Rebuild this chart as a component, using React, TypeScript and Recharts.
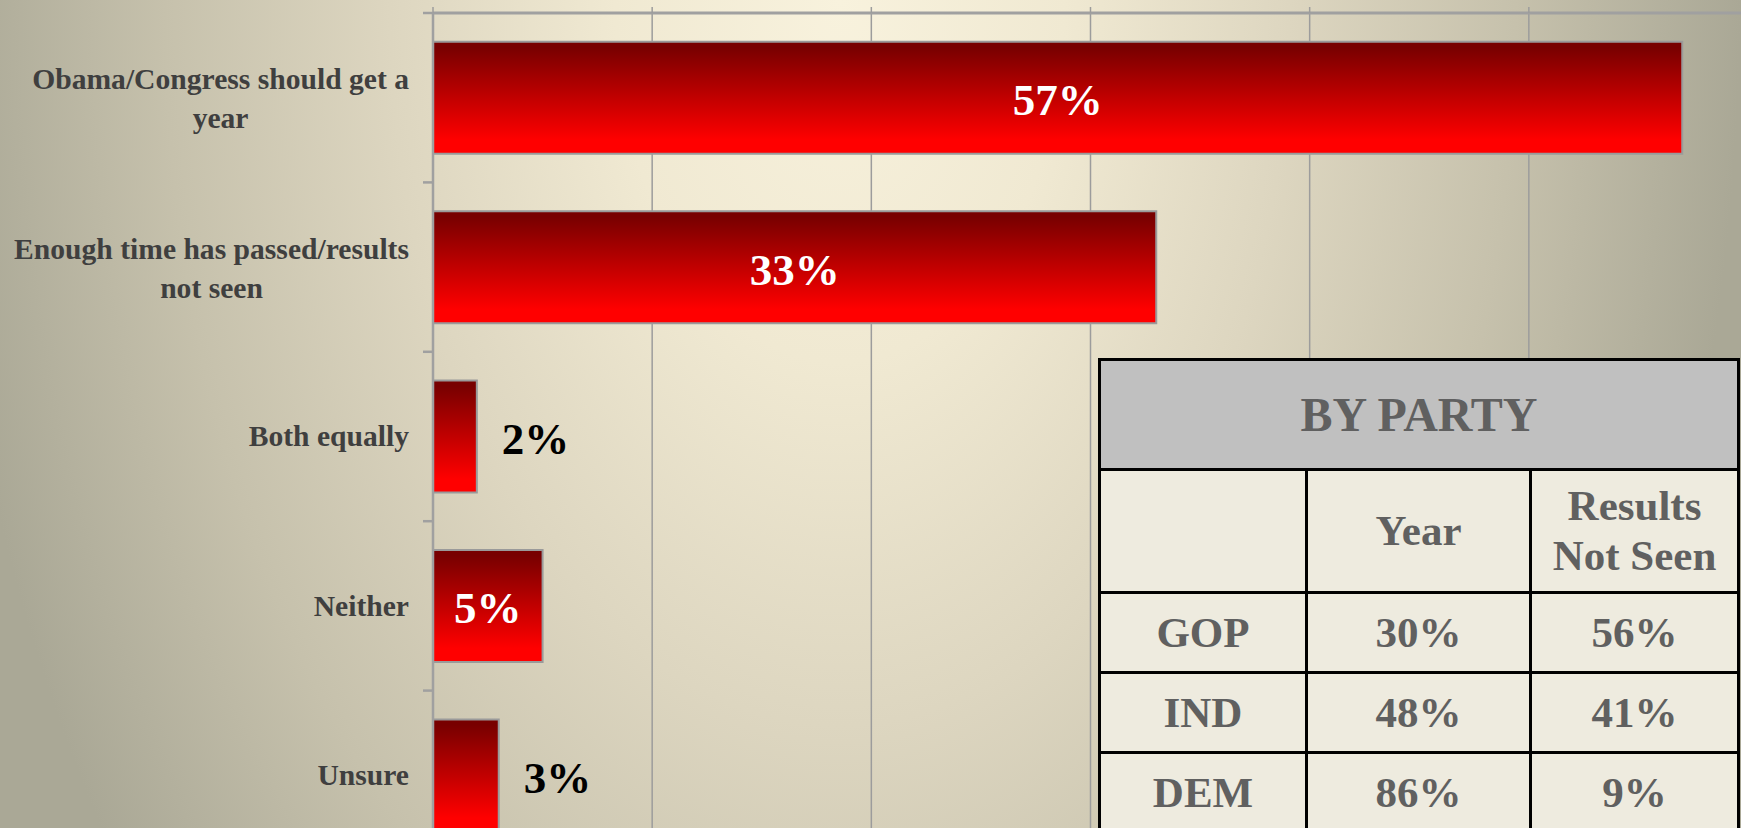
import React from 'react';
import { BarChart, Bar, XAxis, YAxis, CartesianGrid, LabelList } from 'recharts';

// ---- Chart data ----
const categories = [
  'Obama/Congress should get a year',
  'Enough time has passed/results not seen',
  'Both equally',
  'Neither',
  'Unsure',
];
const values = [57, 33, 2, 5, 3];
const xTicks = [0, 10, 20, 30, 40, 50, 60];

// ---- Table data ----
const tableTitle = 'BY PARTY';
const tableColumns = ['', 'Year', 'Results Not Seen'];
const parties = ['GOP', 'IND', 'DEM'];
const yearValues = [30, 48, 86];
const notSeenValues = [56, 41, 9];

const data = categories.map((name, i) => ({ name, value: values[i] }));

const FONT = "'Liberation Serif', 'Times New Roman', serif";

let ctx: CanvasRenderingContext2D | null = null;
function measure(text: string, font: string): number {
  if (!ctx) ctx = document.createElement('canvas').getContext('2d');
  if (!ctx) return text.length * 14;
  ctx.font = font;
  return ctx.measureText(text).width;
}
function wrap(text: string, font: string, maxW: number): string[] {
  const words = text.split(' ');
  const lines: string[] = [];
  let cur = '';
  for (const w of words) {
    const t = cur ? cur + ' ' + w : w;
    if (cur && measure(t, font) > maxW) {
      lines.push(cur);
      cur = w;
    } else cur = t;
  }
  if (cur) lines.push(cur);
  return lines;
}

const LABEL_SIZE = 29.6;
const CategoryTick = (props: any) => {
  const { x, y, payload } = props;
  const font = `bold ${LABEL_SIZE}px ${FONT}`;
  const lines = wrap(String(payload.value), font, 405);
  const maxW = Math.max(...lines.map((l) => measure(l, font)));
  const cx = x - maxW / 2;
  const lh = 39;
  const first = y - ((lines.length - 1) * lh) / 2 + LABEL_SIZE * 0.33 + (lines.length > 1 ? 1.5 : 0);
  const half = payload && payload.offset != null ? payload.offset : 0;
  const axisX = x + 24;
  return (
    <g>
      <line x1={axisX - 10} x2={axisX} y1={y - half} y2={y - half} stroke="#a0a0a0" strokeWidth={2.5} />
      <text
        x={cx}
        y={first}
        textAnchor="middle"
        fill="#3f3f3f"
        fontFamily={FONT}
        fontWeight="bold"
        fontSize={LABEL_SIZE}
      >
        {lines.map((l, i) => (
          <tspan key={i} x={cx} y={first + i * lh}>
            {l}
          </tspan>
        ))}
      </text>
    </g>
  );
};

const EmptyTick = () => <g />;

const BarValueLabel = (props: any) => {
  const vb = props.viewBox && props.viewBox.width != null ? props.viewBox : props;
  const { x, y, width, height } = vb;
  const value = Number(props.value);
  const inside = value >= 5;
  const cy = y + height / 2 + 17.5;
  return (
    <text
      x={inside ? x + width / 2 : x + width + 25}
      y={cy}
      textAnchor={inside ? 'middle' : 'start'}
      fill={inside ? '#ffffff' : '#000000'}
      fontFamily={FONT}
      fontWeight="bold"
      fontSize={45}
    >
      {value}%
    </text>
  );
};

const cellBase: React.CSSProperties = {
  background: '#eeebdf',
  display: 'flex',
  alignItems: 'center',
  justifyContent: 'center',
  textAlign: 'center',
  color: '#606060',
  fontFamily: FONT,
  fontWeight: 'bold',
  fontSize: 43,
  lineHeight: '50px',
};

const PartyTable = () => (
  <div
    style={{
      position: 'absolute',
      left: 1098,
      top: 358,
      background: '#000',
      padding: 3,
      display: 'grid',
      gridTemplateColumns: '204px 221px 205px',
      gridTemplateRows: '107px 120px 77px 77px 77px',
      gap: 3,
    }}
  >
    <div style={{ ...cellBase, gridColumn: '1 / span 3', background: '#c0c0c0', fontSize: 48 }}>{tableTitle}</div>
    {tableColumns.map((c, i) => (
      <div key={'h' + i} style={cellBase}>
        {c}
      </div>
    ))}
    {parties.map((p, i) => (
      <React.Fragment key={p}>
        <div style={cellBase}>{p}</div>
        <div style={cellBase}>{yearValues[i]}%</div>
        <div style={cellBase}>{notSeenValues[i]}%</div>
      </React.Fragment>
    ))}
  </div>
);

export default function App() {
  return (
    <div
      style={{
        position: 'absolute',
        left: 0,
        top: 0,
        width: 1741,
        height: 828,
        overflow: 'hidden',
        background:
          'radial-gradient(900px 1450px at 840px 0px, #f8f2dd 0%, #f0e9d2 25%, #ddd6c0 50%, #c6c1ac 75%, #aaa896 100%)',
      }}
    >
      <BarChart
        width={1748}
        height={860}
        data={data}
        layout="vertical"
        margin={{ top: 0, right: 0, bottom: 0, left: 0 }}
        barCategoryGap="17%"
      >
        <defs>
          <linearGradient id="barGrad" x1="0" y1="0" x2="0" y2="1">
            <stop offset="5%" stopColor="#780000" />
            <stop offset="88%" stopColor="#ff0000" />
          </linearGradient>
        </defs>
        <CartesianGrid horizontal={false} stroke="#9c9c9c" strokeWidth={1.5} />
        <XAxis
          type="number"
          orientation="top"
          domain={[0, 60]}
          ticks={xTicks}
          height={13}
          tick={<EmptyTick />}
          tickSize={6}
          tickLine={{ stroke: '#9c9c9c', strokeWidth: 1.5 }}
          axisLine={{ stroke: '#a0a0a0', strokeWidth: 3 }}
          interval={0}
          allowDataOverflow
        />
        <YAxis
          type="category"
          dataKey="name"
          width={433}
          tick={<CategoryTick />}
          tickLine={false}
          tickSize={0}
          tickMargin={24}
          interval={0}
          axisLine={{ stroke: '#a0a0a0', strokeWidth: 2.5 }}
        />
        <Bar dataKey="value" fill="url(#barGrad)" stroke="#9a9a9a" strokeWidth={2} isAnimationActive={false}>
          <LabelList dataKey="value" content={BarValueLabel} />
        </Bar>
      </BarChart>
      <PartyTable />
    </div>
  );
}
